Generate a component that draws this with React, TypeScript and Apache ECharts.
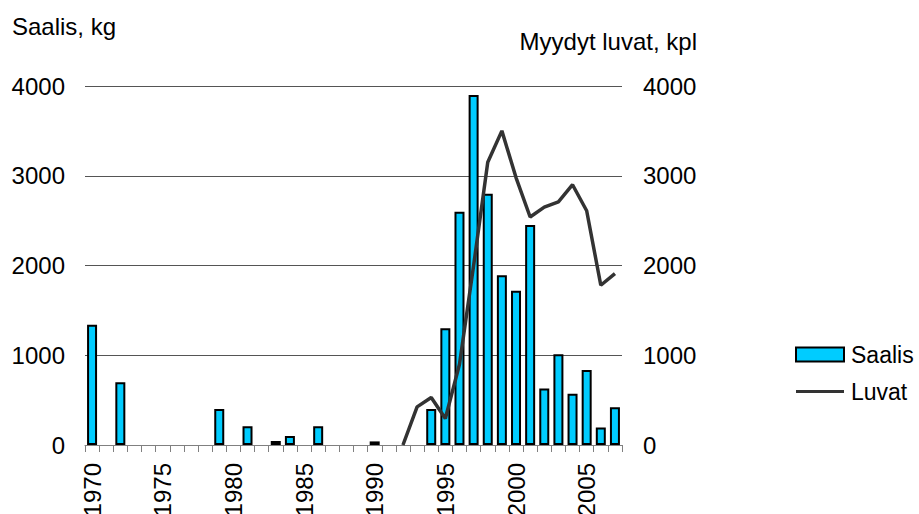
import React, { useEffect, useRef } from "react";
import * as echarts from "echarts";

const years: string[] = [];
for (let y = 1970; y <= 2007; y++) years.push(String(y));

// Saalis, kg (bars) — 1970..2007
const saalis: (number | null)[] = [
  1340, null, 700, null, null, null, null, null, null, 400,
  null, 210, null, 45, 100, null, 210, null, null, null,
  40, null, null, null, 400, 1300, 2600, 3900, 2800, 1890,
  1720, 2450, 630, 1010, 570, 835, 195, 420,
];

// Myydyt luvat, kpl (line) — 1970..2007
const luvat: (number | null)[] = [
  null, null, null, null, null, null, null, null, null, null,
  null, null, null, null, null, null, null, null, null, null,
  null, null, 0, 425, 530, 295, 900, 2000, 3150, 3500,
  2980, 2540, 2650, 2710, 2900, 2610, 1780, 1910,
];

const FONT = "'Liberation Sans', Arial, sans-serif";

export default function App() {
  const ref = useRef<HTMLDivElement>(null);
  useEffect(() => {
    if (!ref.current) return;
    const chart = echarts.init(ref.current, undefined, { renderer: "svg" });
    chart.setOption({
      animation: false,
      backgroundColor: "#ffffff",
      textStyle: { fontFamily: FONT },
      grid: {
        left: 85,
        right: 297,
        top: 86,
        bottom: 69,
        containLabel: false,
        outerBoundsMode: "none",
      },
      legend: {
        orient: "vertical",
        left: 795,
        top: 343,
        padding: 0,
        itemWidth: 48,
        itemHeight: 14,
        itemGap: 14,
        textStyle: { fontSize: 23, color: "#000", fontFamily: FONT, padding: [0, 0, 0, 2] },
        data: [
          { name: "Saalis", icon: "rect" },
          {
            name: "Luvat",
            icon: "path://M0,0 L48,0 L48,3 L0,3 Z",
            itemStyle: { color: "#333333", borderWidth: 0 },
          },
        ],
      },
      graphic: [
        {
          type: "text",
          left: 12,
          top: 14,
          style: { text: "Saalis, kg", fontSize: 24, fill: "#000", fontFamily: FONT },
        },
        {
          type: "text",
          right: 919 - 697,
          top: 29,
          style: { text: "Myydyt luvat, kpl", fontSize: 24, fill: "#000", fontFamily: FONT },
        },
      ],
      xAxis: {
        type: "category",
        data: years,
        boundaryGap: true,
        axisLine: { lineStyle: { color: "#808080", width: 1 } },
        axisTick: { show: true, interval: 0, length: 7, lineStyle: { color: "#808080" } },
        axisLabel: {
          interval: 4,
          rotate: 90,
          fontSize: 24,
          color: "#000",
          margin: 18,
          fontFamily: FONT,
        },
      },
      yAxis: [
        {
          type: "value",
          min: 0,
          max: 4000,
          interval: 1000,
          axisLine: { show: false },
          axisTick: { show: false },
          axisLabel: {
            fontSize: 24,
            color: "#000",
            margin: 20,
            fontFamily: FONT,
            formatter: (v: number) => String(v),
          },
          splitLine: { show: true, lineStyle: { color: "#555", width: 1 } },
        },
        {
          type: "value",
          min: 0,
          max: 4000,
          interval: 1000,
          position: "right",
          axisLine: { show: false },
          axisTick: { show: false },
          axisLabel: {
            fontSize: 24,
            color: "#000",
            margin: 21,
            fontFamily: FONT,
            formatter: (v: number) => String(v),
          },
          splitLine: { show: false },
        },
      ],
      series: [
        {
          name: "Saalis",
          type: "bar",
          data: saalis,
          barWidth: 10,
          yAxisIndex: 0,
          itemStyle: { color: "#00CCFF", borderColor: "#000", borderWidth: 2 },
        },
        {
          name: "Luvat",
          type: "line",
          data: luvat,
          yAxisIndex: 1,
          symbol: "none",
          showSymbol: false,
          lineStyle: { color: "#333333", width: 3.5 },
          itemStyle: { color: "#333333" },
        },
      ],
    });
    return () => chart.dispose();
  }, []);
  return (
    <div
      ref={ref}
      style={{ position: "fixed", left: 0, top: 0, width: 919, height: 514, background: "#fff" }}
    />
  );
}
